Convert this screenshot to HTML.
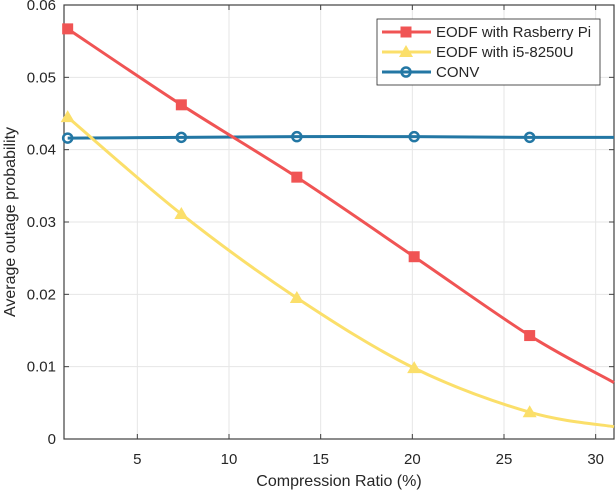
<!DOCTYPE html>
<html><head><meta charset="utf-8"><style>
body{margin:0;background:#fff;font-family:"Liberation Sans",sans-serif}
svg text{font-family:"Liberation Sans",sans-serif;fill:#262626}
</style></head><body>
<svg id="c" width="616" height="492"></svg>
<script>
const xTicks=[5,10,15,20,25,30];
const yTicks=[0,0.01,0.02,0.03,0.04,0.05,0.06];
const yTickLabels=["0","0.01","0.02","0.03","0.04","0.05","0.06"];
const xValues=[1.2,7.4,13.7,20.1,26.4,31];
const redValues=[0.0567,0.0462,0.0362,0.0252,0.0143,0.0078];
const yellowValues=[0.0445,0.0311,0.0195,0.0098,0.0037,0.0017];
const blueValues=[0.0416,0.0417,0.0418,0.0418,0.0417,0.0417];
const L=64,R=614,T=5,B=439;
const sx=v=>L+(v-1)/30*(R-L), sy=v=>B-v/0.06*(B-T);
const svg=document.getElementById('c'),NS='http://www.w3.org/2000/svg';
function el(t,a,p){const e=document.createElementNS(NS,t);for(const k in a)e.setAttribute(k,a[k]);(p||svg).appendChild(e);return e;}
el('rect',{x:L,y:T,width:R-L,height:B-T,fill:'#fff'});
xTicks.forEach(t=>{const g=el('line',{x1:sx(t),x2:sx(t),y1:T,y2:B,stroke:'#e6e6e6'});

el('line',{x1:sx(t),x2:sx(t),y1:B,y2:B-5,stroke:'#404040'});el('line',{x1:sx(t),x2:sx(t),y1:T,y2:T+5,stroke:'#404040'});
const tx=el('text',{x:sx(t),y:B+25,'text-anchor':'middle','font-size':15});tx.textContent=t;
});
yTicks.forEach((t,i)=>{const g=el('line',{x1:L,x2:R,y1:sy(t),y2:sy(t),stroke:'#e6e6e6'});

el('line',{x1:L,x2:L+5,y1:sy(t),y2:sy(t),stroke:'#404040'});el('line',{x1:R,x2:R-5,y1:sy(t),y2:sy(t),stroke:'#404040'});
const tx=el('text',{x:L-8,y:sy(t)+5,'text-anchor':'end','font-size':15});tx.textContent=yTickLabels[i];
});
el('rect',{x:L,y:T,width:R-L,height:B-T,fill:'none',stroke:'#404040','stroke-width':1.2});
function path(vals){const p=xValues.map((x,i)=>[sx(x),sy(vals[i])]);let d=`M${p[0][0]},${p[0][1]}`;
for(let i=0;i<p.length-1;i++){const p0=p[i-1]||p[i],p1=p[i],p2=p[i+1],p3=p[i+2]||p2;
d+=`C${p1[0]+(p2[0]-p0[0])/6},${p1[1]+(p2[1]-p0[1])/6} ${p2[0]-(p3[0]-p1[0])/6},${p2[1]-(p3[1]-p1[1])/6} ${p2[0]},${p2[1]}`;}return d;}
function series(vals,color,shape,name){const g=el('g',{});
el('path',{d:path(vals),fill:'none',stroke:color,'stroke-width':3},g);
for(let i=0;i<5;i++){const x=sx(xValues[i]),y=sy(vals[i]);marker(g,shape,x,y,color);}}
function marker(g,shape,x,y,color){let m;
if(shape==='s')m=el('rect',{x:x-5,y:y-5,width:10,height:10,fill:color,stroke:color},g);
else if(shape==='t')m=el('polygon',{points:`${x},${y-7} ${x-7},${y+5} ${x+7},${y+5}`,fill:color},g);
else m=el('circle',{cx:x,cy:y,r:4.5,fill:'none',stroke:color,'stroke-width':2.5},g);
}
series(blueValues,'#2377a4','o','series-conv');
series(yellowValues,'#fbdf6a','t','series-i5');
series(redValues,'#f05454','s','series-rasberry');
const lg=el('g',{});
el('rect',{x:377,y:19,width:223,height:66,fill:'#fff',stroke:'#262626','stroke-width':0.8},lg);
[['EODF with Rasberry Pi','#f05454','s'],['EODF with i5-8250U','#fbdf6a','t'],['CONV','#2377a4','o']].forEach((e,i)=>{
const y=32+i*20;const eg=el('g',{},lg);
el('line',{x1:382,x2:431,y1:y,y2:y,stroke:e[1],'stroke-width':3},eg);marker(eg,e[2],406,y,e[1]);
const t=el('text',{x:436,y:y+5,'font-size':15,fill:'#000'},eg);t.textContent=e[0];});
const xl=el('text',{x:339,y:486,'text-anchor':'middle','font-size':16});xl.textContent='Compression Ratio (%)';

const yl=el('text',{x:0,y:0,'text-anchor':'middle','font-size':16,transform:'translate(15,222) rotate(-90)'});yl.textContent='Average outage probability';

</script>
</body></html>
